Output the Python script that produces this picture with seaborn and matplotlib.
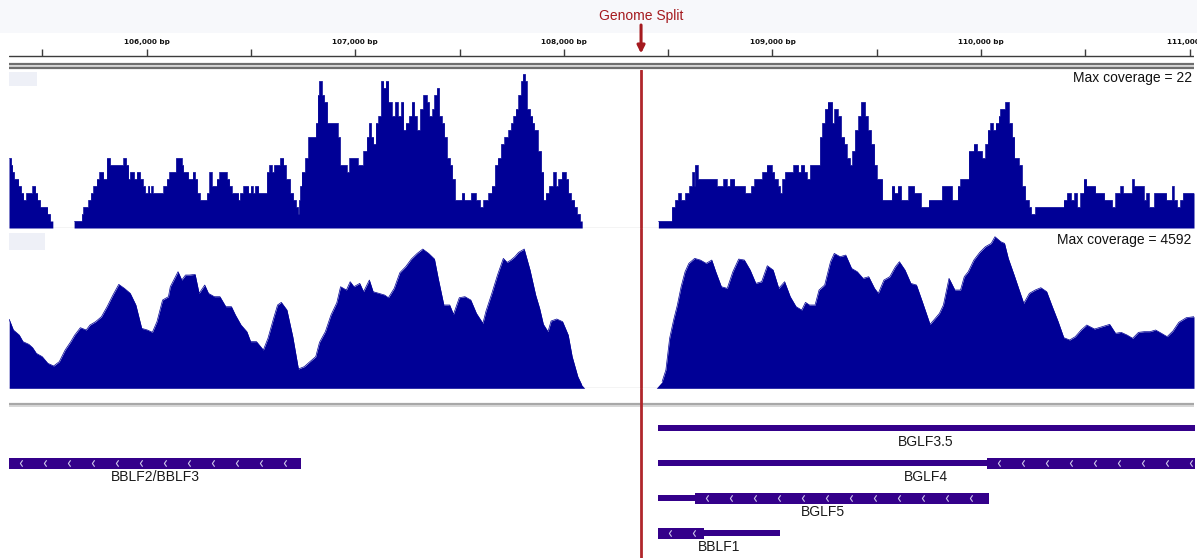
import numpy as np
import matplotlib
matplotlib.use("Agg")
import matplotlib.pyplot as plt
from matplotlib.path import Path
from matplotlib.patches import Rectangle
import seaborn as sns

# ---------------- data ----------------
view_start, view_end = 105341, 111020
split_bp = 108370
ruler_major = [106000, 107000, 108000, 109000, 110000, 111000]
ruler_minor = [105500, 106500, 107500, 108500, 109500, 110500]

track_names = ["Max coverage = 22", "Max coverage = 4592"]
track1_max = 22
track2_max = 4592

# track 1: step coverage (start position of each step, level)
cov1_pos = [105341, 105351, 105357, 105365, 105386, 105399, 105410, 105423, 105453, 105467,
            105477, 105490, 105525, 105538, 105551, 105653, 105690, 105697, 105721, 105733,
            105745, 105761, 105774, 105793, 105809, 105825, 105889, 105902, 105913, 105921,
            105940, 105953, 105969, 105982, 105993, 106007, 106014, 106022, 106029, 106081,
            106097, 106109, 106141, 106169, 106176, 106200, 106221, 106232, 106243, 106256,
            106289, 106301, 106312, 106336, 106349, 106384, 106397, 106408, 106440, 106448,
            106464, 106488, 106499, 106509, 106520, 106536, 106576, 106588, 106600, 106611,
            106640, 106656, 106668, 106688, 106703, 106716, 106726, 106731, 106736, 106743,
            106760, 106775, 106811, 106820, 106827, 106840, 106851, 106866, 106916, 106927,
            106959, 106972, 107012, 107039, 107055, 107066, 107076, 107087, 107098, 107111,
            107124, 107135, 107146, 107159, 107175, 107191, 107204, 107220, 107231, 107242,
            107258, 107271, 107283, 107295, 107311, 107326, 107343, 107354, 107370, 107379,
            107391, 107402, 107415, 107427, 107439, 107454, 107465, 107478, 107511, 107523,
            107555, 107578, 107598, 107614, 107638, 107654, 107670, 107683, 107699, 107715,
            107734, 107747, 107758, 107769, 107782, 107795, 107803, 107814, 107822, 107838,
            107849, 107858, 107875, 107891, 107902, 107913, 107929, 107949, 107961, 107973,
            107990, 108009, 108021, 108034, 108050, 108062, 108077, 108088,
            108453, 108517, 108533, 108548, 108561, 108581, 108601, 108616, 108625, 108628,
            108641, 108732, 108764, 108780, 108796, 108817, 108868, 108897, 108913, 108951,
            108972, 108996, 109008, 109025, 109036, 109047, 109060, 109100, 109123, 109136,
            109152, 109164, 109180, 109227, 109238, 109251, 109264, 109286, 109296, 109312,
            109328, 109344, 109355, 109371, 109382, 109395, 109411, 109424, 109443, 109456,
            109472, 109488, 109499, 109526, 109571, 109584, 109600, 109616, 109651, 109679,
            109711, 109748, 109812, 109860, 109887, 109900, 109940, 109964, 109980, 110004,
            110020, 110031, 110044, 110056, 110069, 110084, 110091, 110115, 110132, 110148,
            110159, 110180, 110195, 110211, 110228, 110239, 110259, 110395, 110411, 110430,
            110446, 110459, 110475, 110491, 110504, 110547, 110590, 110627, 110643, 110667,
            110679, 110723, 110732, 110779, 110791, 110803, 110829, 110887, 110914, 110922,
            110938, 110954, 110967, 111020]
cov1_val = [10, 9, 8, 7, 6, 5, 4, 5, 6, 5,
            4, 3, 2, 1, 0, 1, 2, 3, 4, 5,
            6, 7, 8, 7, 10, 9, 10, 9, 7, 8,
            7, 8, 7, 6, 5, 6, 5, 6, 5, 6,
            7, 8, 10, 9, 8, 7, 8, 7, 5, 4,
            5, 8, 6, 7, 8, 7, 6, 5, 4, 5,
            6, 5, 6, 5, 6, 5, 8, 9, 8, 9,
            10, 9, 7, 5, 4, 3, 2, 4, 6, 8,
            10, 13, 15, 19, 21, 19, 18, 15, 13, 9,
            8, 10, 9, 11, 13, 15, 13, 12, 15, 16,
            21, 20, 21, 18, 16, 18, 16, 18, 14, 15,
            16, 18, 16, 14, 17, 19, 18, 16, 17, 19,
            20, 16, 15, 13, 10, 9, 7, 4, 5, 4,
            5, 4, 3, 4, 5, 6, 9, 10, 12, 13,
            14, 15, 16, 17, 19, 21, 22, 21, 17, 16,
            15, 14, 11, 8, 4, 5, 6, 8, 6, 7,
            8, 7, 5, 4, 3, 2, 1, 0,
            1, 3, 4, 5, 4, 5, 6, 8, 6, 9,
            7, 6, 7, 6, 7, 6, 5, 6, 7, 8,
            9, 8, 7, 6, 5, 7, 8, 9, 8, 9,
            8, 7, 9, 13, 15, 17, 18, 15, 17, 16,
            13, 12, 10, 9, 11, 14, 16, 18, 16, 14,
            12, 9, 7, 4, 6, 5, 6, 4, 6, 5,
            3, 4, 6, 4, 6, 7, 11, 12, 11, 10,
            12, 14, 15, 14, 15, 16, 17, 18, 15, 13,
            10, 9, 6, 4, 3, 2, 3, 4, 5, 4,
            5, 3, 5, 7, 6, 5, 4, 3, 5, 6,
            5, 7, 6, 4, 5, 3, 5, 4, 6, 4,
            3, 4, 5, 5]

# track 2: smooth coverage
cov2_pos = [105342, 105362, 105390, 105408, 105436, 105454, 105472, 105500, 105527, 105555,
            105582, 105610, 105637, 105656, 105683, 105711, 105729, 105756, 105784, 105811,
            105839, 105867, 105894, 105922, 105949, 105977, 106004, 106028, 106050, 106077,
            106105, 106114, 106151, 106169, 106187, 106206, 106233, 106252, 106279, 106297,
            106325, 106352, 106380, 106407, 106426, 106453, 106481, 106499, 106527, 106560,
            106582, 106609, 106628, 106646, 106673, 106701, 106728, 106756, 106783, 106811,
            106829, 106857, 106884, 106912, 106930, 106958, 106976, 106994, 107022, 107040,
            107068, 107086, 107114, 107141, 107159, 107187, 107214, 107242, 107269, 107297,
            107324, 107352, 107380, 107398, 107425, 107453, 107471, 107499, 107526, 107554,
            107581, 107612, 107627, 107655, 107682, 107710, 107728, 107746, 107765, 107783,
            107810, 107838, 107865, 107884, 107902, 107924, 107939, 107966, 107994, 108021,
            108040, 108067, 108086, 108100,
            108443, 108471, 108489, 108507, 108526, 108544, 108562, 108581, 108599, 108627,
            108654, 108682, 108709, 108728, 108755, 108783, 108810, 108838, 108865, 108893,
            108920, 108948, 108975, 109003, 109030, 109058, 109085, 109113, 109140, 109158,
            109177, 109204, 109223, 109250, 109278, 109296, 109324, 109351, 109379, 109406,
            109434, 109461, 109489, 109507, 109534, 109562, 109589, 109608, 109635, 109663,
            109690, 109718, 109755, 109773, 109800, 109819, 109846, 109874, 109901, 109919,
            109938, 109965, 109993, 110020, 110048, 110066, 110094, 110112, 110130, 110158,
            110185, 110204, 110231, 110259, 110286, 110314, 110341, 110369, 110396, 110424,
            110451, 110479, 110506, 110543, 110580, 110616, 110644, 110671, 110699, 110726,
            110754, 110781, 110809, 110836, 110864, 110891, 110919, 110947, 110983, 111020]
cov2_val = [2089, 1766, 1614, 1413, 1332, 1231, 1059, 959, 757, 676,
            807, 1160, 1413, 1614, 1836, 1766, 1917, 2018, 2169, 2472,
            2825, 3148, 3027, 2876, 2523, 1816, 1766, 1695, 2018, 2674,
            2775, 3077, 3532, 3279, 3431, 3431, 3451, 2876, 3128, 2876,
            2775, 2775, 2472, 2472, 2220, 1917, 1715, 1413, 1413, 1160,
            1514, 2119, 2523, 2603, 2371, 1564, 585, 656, 807, 959,
            1392, 1715, 2220, 2593, 3077, 2977, 3229, 3077, 3178, 2926,
            3279, 2926, 2876, 2825, 2744, 3027, 3501, 3683, 3915, 4086,
            4218, 4086, 3915, 3330, 2523, 2523, 2240, 2744, 2775, 2674,
            2270, 1968, 2341, 2876, 3431, 3935, 3814, 3885, 3986, 4117,
            4218, 3582, 2825, 2422, 1937, 1715, 2038, 2099, 2018, 1614,
            959, 353, 101, 0,
            0, 202, 555, 1514, 2068, 2523, 3077, 3532, 3784, 3935,
            3885, 3784, 3885, 3532, 3077, 3027, 3532, 3915, 3885, 3582,
            3178, 3229, 3713, 3582, 3027, 3229, 2775, 2472, 2371, 2603,
            2523, 2523, 2977, 3128, 3834, 4086, 3986, 4036, 3632, 3532,
            3330, 3380, 3027, 2876, 3279, 3380, 3683, 3834, 3582, 3178,
            3128, 2623, 1937, 2068, 2270, 2523, 3330, 2977, 2977, 3380,
            3532, 3885, 4117, 4288, 4389, 4592, 4440, 4389, 3935, 3431,
            2926, 2573, 2876, 2977, 3047, 2926, 2472, 2018, 1534, 1463,
            1564, 1766, 1917, 1796, 1867, 1937, 1665, 1695, 1614, 1514,
            1695, 1715, 1715, 1766, 1665, 1564, 1735, 1998, 2139, 2169]

# gene annotations
gene_names = ["BGLF3.5", "BGLF4", "BGLF5", "BBLF1", "BBLF2/BBLF3"]
gene_rows = [0, 1, 2, 3, 1]
gene_start = [108449, 108449, 108449, 108449, 105200]
gene_end = [111300, 111300, 110037, 109035, 106740]
cds_start = [np.nan, 110026, 108630, 108449, 105200]
cds_end = [np.nan, 111300, 110037, 108674, 106740]

# ---------------- style ----------------
COV = "#000096"
GENE = "#34008a"
RED = "#b0262b"
W, H = 1197, 558

sns.set_theme(style="white")
plt.rcParams['font.family'] = ['Liberation Sans', 'DejaVu Sans']

fig = plt.figure(figsize=(W / 100, H / 100), dpi=100)
fig.patch.set_facecolor("white")


def px_axes(top, bottom, left=9, right=1194):
    ax = fig.add_axes([left / W, 1 - bottom / H, (right - left) / W, (bottom - top) / H])
    ax.set_xlim(view_start, view_end)
    ax.set_axis_off()
    return ax


def fig_rect(x0, y0, x1, y1, color):
    fig.add_artist(Rectangle((x0 / W, 1 - y1 / H), (x1 - x0) / W, (y1 - y0) / H,
                             transform=fig.transFigure, color=color, lw=0, zorder=0))


fig_rect(0, 0, W, 33, "#f7f8fb")
fig_rect(9, 72, 37, 86, "#eef0f7")
fig_rect(9, 233, 45, 250, "#eef0f7")

# ---------------- ruler ----------------
ax_r = px_axes(0, 70)
ax_r.set_ylim(70, 0)
ax_r.axhline(56, color="#3c3c3c", lw=1.0)
ax_r.vlines(ruler_major + ruler_minor, 49, 56, color="#3c3c3c", lw=1.0)
for t in ruler_major:
    ax_r.text(t, 42, f"{t:,} bp", ha="center", va="center", fontsize=5.2,
              fontweight="bold", family="DejaVu Sans", color="#111111")
ax_r.axhline(63.8, color="#6e6e6e", lw=1.6)
ax_r.axhline(66.2, color="#d0d0d0", lw=1.2)
ax_r.axhline(68.3, color="#6e6e6e", lw=1.6)
ax_r.text(split_bp, 16, "Genome Split", ha="center", va="center", fontsize=10, color="#a51a1f")
ax_r.annotate("", xy=(split_bp, 53.5), xytext=(split_bp, 25),
              arrowprops=dict(arrowstyle="-|>", color="#a51a1f", lw=2.2, mutation_scale=11,
                              shrinkA=0, shrinkB=0))


def outline_blocks(ax, pos, val, **kw):
    pos = np.asarray(pos, float)
    val = np.asarray(val, float)
    nz = val > 0
    idx = np.flatnonzero(nz)
    if idx.size == 0:
        return
    groups = np.split(idx, np.flatnonzero(np.diff(idx) > 1) + 1)
    for g in groups:
        sns.lineplot(x=pos[g], y=val[g], ax=ax, estimator=None, sort=False,
                     legend=False, **kw)


# ---------------- track 1 ----------------
ax1 = px_axes(70, 228)
ax1.set_ylim(0, 158 / 7.0)
ax1.axhline(0, color="#c8c8c8", lw=1.0, zorder=1)
ax1.fill_between(cov1_pos, cov1_val, step="post", color=COV, lw=0, zorder=2)
outline_blocks(ax1, cov1_pos, cov1_val, color=COV, lw=0.5, drawstyle="steps-post", zorder=3)
ax1.set_axis_off()
ax1.text(0.9983, 0.949, track_names[0], transform=ax1.transAxes, ha="right", va="center",
         fontsize=10, color="#111111")
ax1.axvline(split_bp, color=RED, lw=2, zorder=5)

# ---------------- track 2 ----------------
ax2 = px_axes(228, 388.3)
ax2.set_ylim(0, 160.3 * 30.29)
ax2.axhline(0, color="#c8c8c8", lw=1.0, zorder=1)
ax2.fill_between(cov2_pos, cov2_val, color=COV, lw=0, zorder=2)
outline_blocks(ax2, cov2_pos, cov2_val, color=COV, lw=0.5, zorder=3)
ax2.set_axis_off()
ax2.text(0.9975, 0.925, track_names[1], transform=ax2.transAxes, ha="right", va="center",
         fontsize=10, color="#111111")
ax2.axvline(split_bp, color=RED, lw=2, zorder=5)

# ---------------- genes ----------------
ROW = 35.0
axg = px_axes(388.3, 558)
axg.set_ylim((558 - 428) / ROW, (388.3 - 428) / ROW)
axg.axhline((403.6 - 428) / ROW, color="#a8a8a8", lw=1.6)
axg.axhline((406.2 - 428) / ROW, color="#cfcfcf", lw=1.2)
axg.axvline(split_bp, color=RED, lw=2, zorder=5)

thin_h = 5.5 / ROW
thick_h = 11 / ROW
chev = Path([(0.35, 1.0), (-0.35, 0.0), (0.35, -1.0)], [Path.MOVETO, Path.LINETO, Path.LINETO])
arrow_off = 58
arrow_step = 115

for name, row, gs, ge, cs, ce in zip(gene_names, gene_rows, gene_start, gene_end, cds_start, cds_end):
    vs, ve = max(gs, view_start), min(ge, view_end)
    axg.broken_barh([(gs, ge - gs)], (row - thin_h / 2, thin_h), color=GENE, lw=0)
    if not np.isnan(cs):
        axg.broken_barh([(cs, ce - cs)], (row - thick_h / 2, thick_h), color=GENE, lw=0)
        a0 = max(cs, view_start) + arrow_off
        a1 = min(ce, view_end)
        xs = np.arange(a0, a1 - 10, arrow_step)
        axg.plot(xs, np.full(len(xs), row), ls="none", marker=chev, ms=4.6, mfc="none",
                 mec="#cdc6ea", mew=0.8, zorder=4)
    axg.text((vs + ve) / 2, row + 0.41, name, ha="center", va="center", fontsize=10,
             color="#1a1a1a")

fig.savefig("out.png", dpi=100)
